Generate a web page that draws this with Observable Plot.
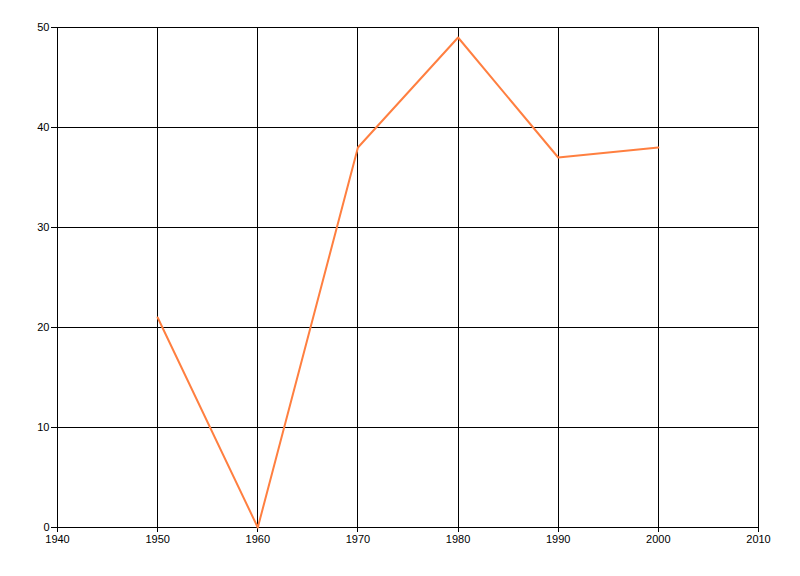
<!DOCTYPE html>
<html>
<head>
<meta charset="utf-8">
<script src="https://cdn.jsdelivr.net/npm/d3@7"></script>
<script src="https://cdn.jsdelivr.net/npm/@observablehq/plot@0.6"></script>
<style>
  html, body { margin: 0; padding: 0; background: #fff; }
  #chart svg { display: block; }
</style>
</head>
<body>
<div id="chart"></div>
<script>
const years = [1950, 1960, 1970, 1980, 1990, 2000];
const values = [21, 0, 38, 49, 37, 38];
const xTicks = [1940, 1950, 1960, 1970, 1980, 1990, 2000, 2010];
const yTicks = [0, 10, 20, 30, 40, 50];

const data = years.map((y, i) => ({year: y, value: values[i]}));

const chart = Plot.plot({
  width: 800,
  height: 576,
  marginLeft: 57,
  marginRight: 42,
  marginTop: 27,
  marginBottom: 49,
  style: {fontFamily: "'Liberation Sans', Arial, sans-serif", fontSize: "11px", color: "#000", background: "#fff"},
  x: {domain: [1940, 2010], ticks: xTicks, tickFormat: d => String(d), label: null},
  y: {domain: [0, 50], ticks: yTicks, label: null},
  marks: [
    Plot.gridX(xTicks, {stroke: "#000", strokeOpacity: 1, strokeWidth: 1, shapeRendering: "crispEdges"}),
    Plot.gridY(yTicks, {stroke: "#000", strokeOpacity: 1, strokeWidth: 1, shapeRendering: "crispEdges"}),
    Plot.axisX({ticks: xTicks, tickSize: 5, tickPadding: 3, tickFormat: d => String(d), label: null, stroke: "#000", shapeRendering: "crispEdges"}),
    Plot.axisY({ticks: yTicks, tickSize: 6, tickPadding: 2, label: null, stroke: "#000", shapeRendering: "crispEdges"}),
    Plot.ruleX([1940], {stroke: "#000", shapeRendering: "crispEdges"}),
    Plot.ruleY([0], {stroke: "#000", shapeRendering: "crispEdges"}),
    Plot.line(data, {x: "year", y: "value", stroke: "#ff7f40", strokeWidth: 2})
  ]
});
document.getElementById("chart").appendChild(chart);
</script>
</body>
</html>
